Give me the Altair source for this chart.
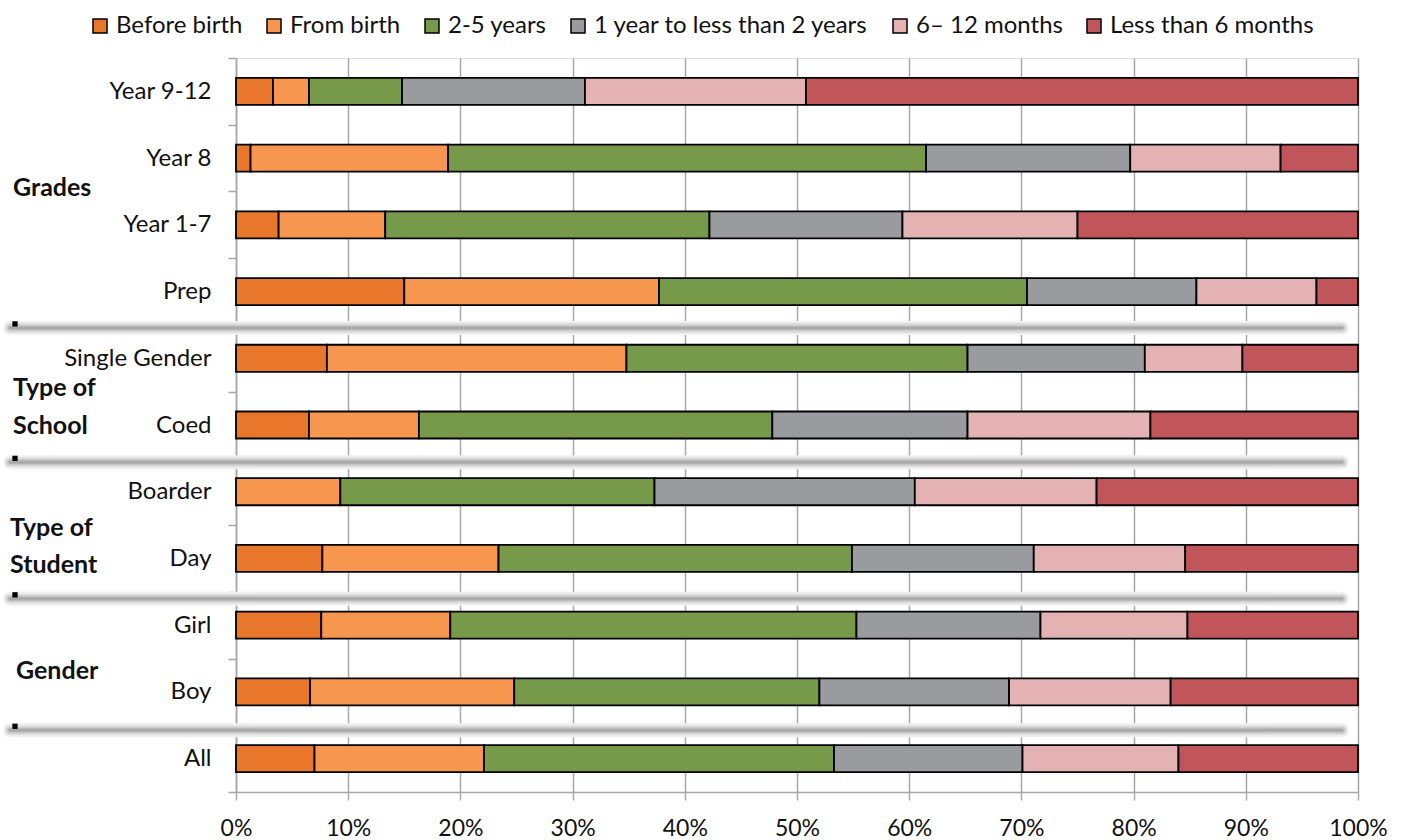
import altair as alt
import pandas as pd

# Rows from top to bottom, and the six length-of-time categories
rows = ["Year 9-12", "Year 8", "Year 1-7", "Prep", "Single Gender", "Coed",
        "Boarder", "Day", "Girl", "Boy", "All"]
categories = ["Before birth", "From birth", "2-5 years",
              "1 year to less than 2 years", "6\u2013 12 months", "Less than 6 months"]

# Percentage of respondents per row, one list per category
before_birth = [3.3, 1.3, 3.8, 15.0, 8.1, 6.5, 0.0, 7.7, 7.6, 6.6, 7.0]
from_birth = [3.2, 17.6, 9.5, 22.7, 26.7, 9.8, 9.3, 15.7, 11.5, 18.2, 15.1]
two_to_five = [8.3, 42.6, 28.9, 32.8, 30.4, 31.5, 28.0, 31.5, 36.2, 27.2, 31.2]
one_to_two = [16.3, 18.2, 17.2, 15.1, 15.8, 17.4, 23.2, 16.2, 16.4, 16.9, 16.8]
six_to_twelve = [19.7, 13.4, 15.6, 10.7, 8.7, 16.3, 16.2, 13.5, 13.1, 14.4, 13.9]
under_six = [49.2, 6.9, 25.0, 3.7, 10.3, 18.5, 23.3, 15.4, 15.2, 16.7, 16.0]
series = [before_birth, from_birth, two_to_five, one_to_two, six_to_twelve, under_six]

colors = ["#E8762B", "#F7964F", "#76994A", "#9A9B9F", "#E4B2B3", "#C0565A"]

# Group headings at the left, with the separators between groups
group_lines = ["Grades", "Type of", "School", "Type of", "Student", "Gender"]
group_line_y = [130, 330, 368, 470, 507, 613]
group_line_x = [-223, -223, -223, -226, -226, -220]
separator_edges = [4, 6, 8, 10]
separator_shift = [3, 4, 7, 5]

FONT = "Lato"
W, H = 1122, 734
step = H / len(rows)

records = []
for ci, (cat, vals) in enumerate(zip(categories, series)):
    for r, v in zip(rows, vals):
        records.append({"row": r, "period": cat, "rank": ci, "share": v})
df = pd.DataFrame(records)

bars = alt.Chart(df).transform_filter("datum.share > 0").mark_bar(
    stroke="black", strokeWidth=1.8, height=alt.RelativeBandSize(0.405)
).encode(
    y=alt.Y(
        "row:N", sort=rows, title=None,
        scale=alt.Scale(paddingInner=0, paddingOuter=0),
        axis=alt.Axis(
            tickBand="extent", labelFont=FONT, labelFontSize=24, labelColor="#111111",
            labelPadding=17, tickSize=8, tickColor="#a6a6a6", tickWidth=1.5,
            domainColor="#a6a6a6", domainWidth=1.5, grid=False, labelLimit=300,
        ),
    ),
    x=alt.X(
        "share:Q", stack="normalize", title=None,
        scale=alt.Scale(domain=[0, 1], nice=False),
        axis=alt.Axis(
            format=".0%", values=[i / 10 for i in range(11)], labelFont=FONT,
            labelFontSize=23, labelColor="#111111", labelPadding=17, labelFlush=False,
            grid=True, gridColor="#a8a8a8", gridWidth=1.5,
            tickSize=8, tickColor="#a8a8a8", tickWidth=1.5,
            domainColor="#a8a8a8", domainWidth=1.5,
        ),
    ),
    color=alt.Color(
        "period:N",
        scale=alt.Scale(domain=categories, range=colors),
        legend=alt.Legend(
            title=None, orient="none", direction="horizontal",
            legendX=-148, legendY=-44, symbolType="square", symbolSize=196,
            symbolStrokeColor="black", symbolStrokeWidth=1.5,
            labelFont=FONT, labelFontSize=24, labelColor="#111111",
            labelOffset=4, columnPadding=19, labelLimit=400,
        ),
    ),
    order=alt.Order("rank:Q", sort="ascending"),
)

layers = []

# Soft grey separators between groups, each with a small black marker
for edge, shift in zip(separator_edges, separator_shift):
    y_line = edge * step + shift
    for width, shade in [(14, "#f0f0f0"), (10, "#e0e0e0"), (7, "#cdcdcd"), (4, "#b6b6b6"), (2, "#a8a8a8")]:
        layers.append(
            alt.Chart(pd.DataFrame({"edge": [edge]})).mark_rule(
                strokeWidth=width, color=shade, strokeCap="round"
            ).encode(x=alt.value(-226), x2=alt.value(1106), y=alt.value(y_line))
        )
    layers.append(
        alt.Chart(pd.DataFrame({"edge": [edge]})).mark_square(
            size=28, color="black", opacity=1
        ).encode(x=alt.value(-221), y=alt.value(y_line - 4))
    )

for text, gx, gy in zip(group_lines, group_line_x, group_line_y):
    layers.append(
        alt.Chart(pd.DataFrame({"t": [text]})).mark_text(
            font=FONT, fontSize=25, fontWeight="bold", align="left",
            baseline="middle", color="#111111"
        ).encode(text="t:N", x=alt.value(gx), y=alt.value(gy))
    )

chart = alt.layer(bars, *layers).properties(
    width=W, height=H,
    autosize=alt.AutoSizeParams(type="none"),
    padding={"left": 236, "top": 58, "right": 47, "bottom": 48},
).configure_view(stroke=None).configure(background="white")

chart.save("out.html", embed_options={"renderer": "svg", "actions": False})
